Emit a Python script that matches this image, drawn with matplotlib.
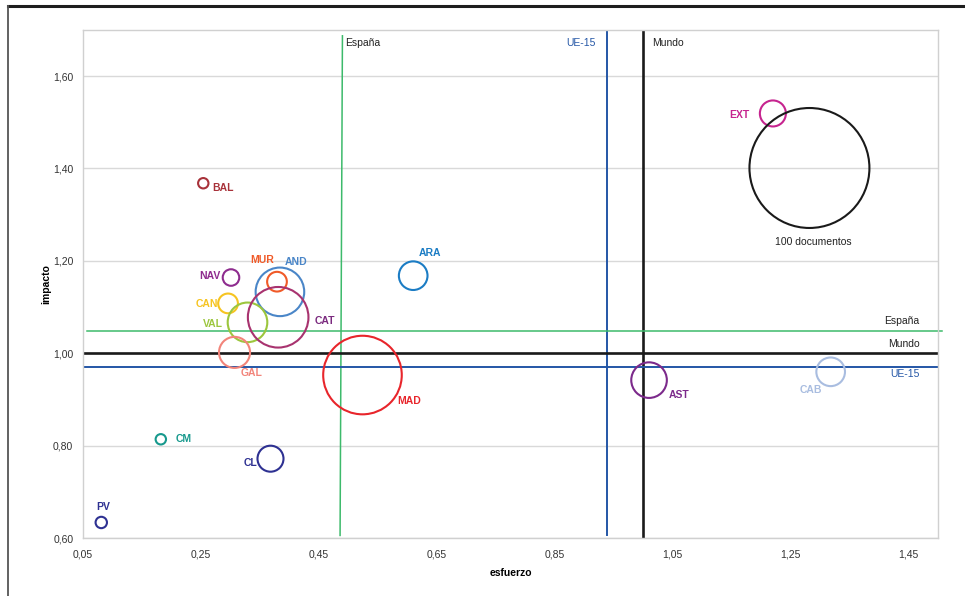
import matplotlib
matplotlib.use("Agg")
import matplotlib.pyplot as plt
from matplotlib.lines import Line2D
from matplotlib.ticker import FuncFormatter

plt.rcParams['font.family'] = ['Liberation Sans', 'DejaVu Sans']

# comunidades: esfuerzo, impacto, documentos (tamaño relativo)
regiones = ["BAL", "NAV", "MUR", "AND", "CAN", "VAL", "CAT", "GAL",
            "MAD", "ARA", "CM", "CL", "PV", "AST", "CAB", "EXT"]
esfuerzo = [0.254, 0.301, 0.379, 0.384, 0.296, 0.329, 0.381, 0.307,
            0.524, 0.610, 0.182, 0.368, 0.081, 1.010, 1.318, 1.220]
impacto = [1.368, 1.164, 1.155, 1.133, 1.108, 1.067, 1.078, 1.002,
           0.953, 1.168, 0.814, 0.772, 0.634, 0.942, 0.960, 1.519]
documentos = [0.75, 1.9, 2.7, 16.4, 2.7, 10.9, 25.5, 6.7,
              42.9, 5.7, 0.75, 4.7, 0.9, 8.8, 5.7, 4.7]
colores = ["#a8323a", "#8e2c8e", "#f05a28", "#4a86c8", "#f6c421", "#9cc63d",
           "#a8336f", "#f2847a", "#e8252b", "#1b7cc4", "#17998d", "#2e3192",
           "#2e3192", "#7c2a8b", "#a9bde0", "#c6248f"]
color_texto = {"CAT": "#7b2a7f"}

# burbuja de referencia
ref_x, ref_y, ref_n = 1.282, 1.401, 100

# referencias (esfuerzo / impacto)
ref_espana_x = [0.490, 0.486]
ref_espana_y = 1.048
ref_ue15_x = 0.939
ref_ue15_y = 0.970
ref_mundo_x = 1.000
ref_mundo_y = 1.000

# desplazamiento de etiquetas (puntos) y alineación
offsets = {
    "BAL": (6.3, -3.4, "left"), "NAV": (-7.7, 1.0, "right"),
    "MUR": (-10.6, 15.6, "center"), "AND": (11.3, 21.4, "center"),
    "CAN": (-7.0, -0.5, "right"), "VAL": (-17.7, -1.2, "right"),
    "CAT": (26.6, -2.9, "left"), "GAL": (12.2, -15.1, "center"),
    "MAD": (25.0, -18.7, "left"), "ARA": (12.2, 16.6, "center"),
    "CM": (10.3, 0.0, "left"), "CL": (-9.6, -2.9, "right"),
    "PV": (1.7, 10.8, "center"), "AST": (14.1, -10.8, "left"),
    "CAB": (-14.4, -13.2, "center"), "EXT": (-17.0, -1.2, "right"),
}

SCALE = 74.6  # points^2 per documento
green = "#3dba6b"
blue = "#2456a6"
black = "#1a1a1a"

fig = plt.figure(figsize=(9.65, 5.96), dpi=100)
ax = fig.add_axes([0.086, 0.097, 0.886, 0.853])
ax.set_xlim(0.05, 1.50)
ax.set_ylim(0.60, 1.70)

ax.set_xticks([0.05, 0.25, 0.45, 0.65, 0.85, 1.05, 1.25, 1.45])
ax.set_yticks([0.6, 0.8, 1.0, 1.2, 1.4, 1.6])
fmt = FuncFormatter(lambda v, p: f"{v:.2f}".replace(".", ","))
ax.xaxis.set_major_formatter(fmt)
ax.yaxis.set_major_formatter(fmt)
ax.tick_params(length=0, labelsize=7.5, colors="#333333")
ax.tick_params(axis="x", pad=8)
ax.tick_params(axis="y", pad=7)
ax.grid(axis="y", color="#d9d9d9", lw=1)
ax.set_axisbelow(True)
for sp in ax.spines.values():
    sp.set_color("#d0d0d0")
    sp.set_linewidth(1)

ax.set_xlabel("esfuerzo", fontsize=7.5, fontweight="bold", labelpad=6)
ax.set_ylabel("impacto", fontsize=7.5, fontweight="bold", labelpad=1)

# líneas de referencia
ax.plot(ref_espana_x, [1.687, 0.606], color=green, lw=1.1, zorder=2)
ax.plot([ref_ue15_x, ref_ue15_x], [1.70, 0.606], color=blue, lw=1.4, zorder=2)
ax.axvline(ref_mundo_x, color=black, lw=1.9, zorder=2)
ax.plot([0.056, 1.507], [ref_espana_y, ref_espana_y], color=green, lw=1.1,
        zorder=2, clip_on=False)
ax.axhline(ref_mundo_y, color=black, lw=1.9, zorder=2)
ax.axhline(ref_ue15_y, color=blue, lw=1.4, zorder=2)

lab_y = 1.672
ax.annotate("España", (ref_espana_x[0], lab_y), xytext=(2, 0), textcoords="offset points",
            fontsize=7.5, color="#222222", ha="left", va="center")
ax.annotate("UE-15", (ref_ue15_x, lab_y), xytext=(-8.5, 0), textcoords="offset points",
            fontsize=7.5, color=blue, ha="right", va="center")
ax.annotate("Mundo", (ref_mundo_x, lab_y), xytext=(6.5, 0), textcoords="offset points",
            fontsize=7.5, color="#222222", ha="left", va="center")
lab_x = 1.469
ax.annotate("España", (lab_x, ref_espana_y), xytext=(0, 7), textcoords="offset points",
            fontsize=7.5, color="#222222", ha="right", va="center")
ax.annotate("Mundo", (lab_x, ref_mundo_y), xytext=(0, 7), textcoords="offset points",
            fontsize=7.5, color="#222222", ha="right", va="center")
ax.annotate("UE-15", (lab_x, ref_ue15_y), xytext=(0, -5), textcoords="offset points",
            fontsize=7.5, color=blue, ha="right", va="center")

# burbujas
sizes = [n * SCALE for n in documentos]
ax.scatter(esfuerzo, impacto, s=sizes, facecolors="none", edgecolors=colores,
           linewidths=1.5, zorder=3)
ax.scatter([ref_x], [ref_y], s=[ref_n * SCALE], facecolors="none",
           edgecolors=black, linewidths=1.5, zorder=3)

for name, x, y, c in zip(regiones, esfuerzo, impacto, colores):
    dx, dy, ha = offsets[name]
    ax.annotate(name, (x, y), xytext=(dx, dy), textcoords="offset points",
                fontsize=7.5, fontweight="bold", color=color_texto.get(name, c),
                ha=ha, va="center", zorder=4)
ax.annotate(f"{ref_n} documentos", (ref_x, ref_y), xytext=(3.1, -53.5),
            textcoords="offset points", fontsize=7.5, color="#222222",
            ha="center", va="center")

# marco exterior
fig.add_artist(Line2D([0.008, 1.0], [0.9905, 0.9905], color="#1e1e1e", lw=2.2))
fig.add_artist(Line2D([0.0083, 0.0083], [0.0, 0.9905], color="#555555", lw=1.3))

fig.savefig("out.png", dpi=100)
